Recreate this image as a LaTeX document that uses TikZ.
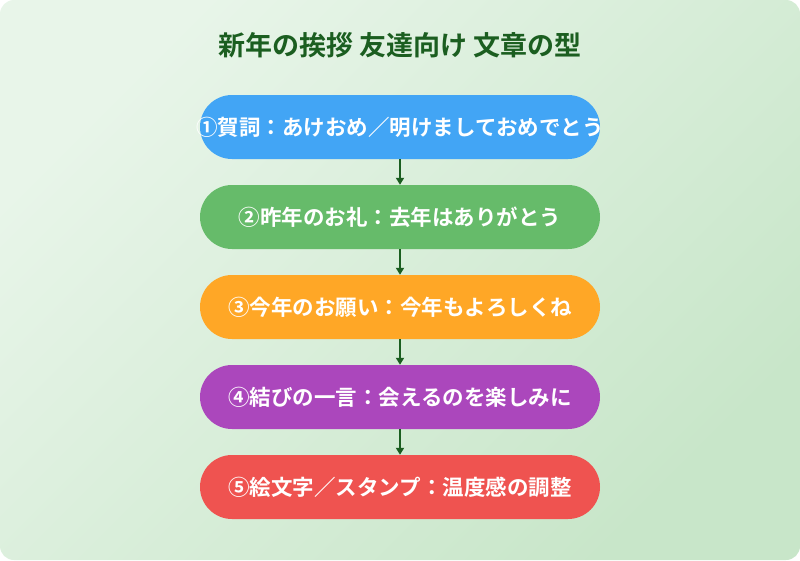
\documentclass[tikz,border=0pt]{standalone}
\usepackage{fontspec}
\newfontfamily\cjk{Noto Sans CJK JP Bold}
\usetikzlibrary{arrows.meta}
\definecolor{bgA}{HTML}{E8F5E9}
\definecolor{bgB}{HTML}{C8E6C9}
\definecolor{dgreen}{HTML}{1B5E20}
\definecolor{cA}{HTML}{42A5F5}
\definecolor{cB}{HTML}{66BB6A}
\definecolor{cC}{HTML}{FFA726}
\definecolor{cD}{HTML}{AB47BC}
\definecolor{cE}{HTML}{EF5350}
\tikzset{stepbox/.style={rounded corners=32pt,minimum width=400pt,minimum height=64pt,inner sep=0pt,text=white,font=\cjk\fontsize{21.5pt}{24pt}\selectfont},
link/.style={draw=dgreen,line width=1.8pt,-{Triangle[length=7pt,width=8pt]}}}
\begin{document}
\begin{tikzpicture}[x=1pt,y=1pt]
\useasboundingbox (0,0) rectangle (800,-560);
\shade[left color=bgB,right color=bgA,rounded corners=14pt,shading angle=225] (0,0) rectangle (800,-560);
\node[text=dgreen,font=\cjk\fontsize{27pt}{30pt}\selectfont] (title) at (400,-45) {新年の挨拶 友達向け 文章の型};
\node[stepbox,fill=cA] (s1) at (400,-127) {\makebox[0pt]{①賀詞：あけおめ／明けましておめでとう}};
\node[stepbox,fill=cB] (s2) at (400,-217) {\makebox[0pt]{②昨年のお礼：去年はありがとう}};
\node[stepbox,fill=cC] (s3) at (400,-307) {\makebox[0pt]{③今年のお願い：今年もよろしくね}};
\node[stepbox,fill=cD] (s4) at (400,-397) {\makebox[0pt]{④結びの一言：会えるのを楽しみに}};
\node[stepbox,fill=cE] (s5) at (400,-487) {\makebox[0pt]{⑤絵文字／スタンプ：温度感の調整}};
\foreach \a/\b in {s1/s2,s2/s3,s3/s4,s4/s5} \draw[link] (\a.south) -- (\b.north);
\end{tikzpicture}
\end{document}
